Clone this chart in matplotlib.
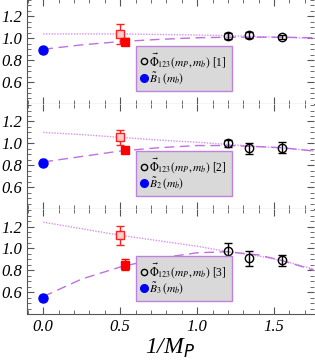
import matplotlib
matplotlib.use("Agg")
import matplotlib.pyplot as plt
from matplotlib import font_manager
from matplotlib.font_manager import FontProperties
from matplotlib.lines import Line2D
from matplotlib.ticker import MultipleLocator

# buscar el archivo de la serif italica
ruta_it = None
for f in font_manager.findSystemFonts():
  if 'LiberationSerif-Italic' in f:
    ruta_it = f
if ruta_it:
  fp_it = FontProperties(fname=ruta_it)
else:
  fp_it = FontProperties(family='Liberation Serif', style='italic')

plt.rcParams['font.family'] = 'Liberation Serif'
plt.rcParams['mathtext.fontset'] = 'stix'

# datos, un bloque por panel
x_b = [0.0]
x_open = [0.5]
x_fill = [0.53]
x_phi = [1.20, 1.34, 1.55]

b_y = [0.89, 0.825, 0.545]
b_err = [0.025, 0.03, 0.03]
open_y = [1.04, 1.055, 1.12]
open_err = [0.09, 0.07, 0.085]
fill_y = [0.97, 0.94, 0.85]
fill_err = [0.03, 0.02, 0.05]
phi_y = [[1.02, 1.03, 1.01],
         [1.00, 0.955, 0.96],
         [0.98, 0.91, 0.89]]
phi_err = [[0.03, 0.03, 0.02],
           [0.035, 0.05, 0.05],
           [0.065, 0.07, 0.05]]

curva_x = [0.0, 0.25, 0.5, 0.75, 1.0, 1.2, 1.4, 1.55, 1.76]
dashed_y = [[0.90, 0.94, 0.97, 0.99, 1.005, 1.01, 1.01, 1.01, 1.005],
            [0.83, 0.88, 0.93, 0.96, 0.98, 0.98, 0.97, 0.96, 0.93],
            [0.56, 0.72, 0.83, 0.91, 0.96, 0.97, 0.94, 0.89, 0.80]]
dotted_y = [[1.04, 1.04, 1.04, 1.035, 1.03, 1.025, 1.015, 1.01, 1.00],
            [1.10, 1.08, 1.055, 1.03, 1.01, 0.99, 0.97, 0.96, 0.93],
            [1.24, 1.18, 1.12, 1.07, 1.02, 0.97, 0.93, 0.89, 0.81]]
etiquetas = ['[1]', '[2]', '[3]']

fig = plt.figure(figsize=(3.15, 3.61), dpi=100)
fondos = [0.712, 0.421, 0.130]
gris = '#555555'

for i in range(3):
  ax = fig.add_axes([0.086, fondos[i], 0.911, 0.291])
  ax.plot(curva_x, dotted_y[i], linestyle=(0, (1, 1)), color='#d890f0', lw=1)
  ax.plot(curva_x, dashed_y[i], linestyle=(0, (7, 4)), color='#c070e0', lw=1)
  ax.errorbar(x_b, [b_y[i]], yerr=[b_err[i]], fmt='o', color='#0000ff',
              ms=6.5, capsize=2, elinewidth=1)
  ax.errorbar(x_open, [open_y[i]], yerr=[open_err[i]], fmt='s', color='#ff2020',
              mfc='#ffcccc', ms=6, capsize=3, elinewidth=1)
  ax.errorbar(x_fill, [fill_y[i]], yerr=[fill_err[i]], fmt='s', color='#ff0000',
              ms=6, capsize=3, elinewidth=1)
  ax.errorbar(x_phi, phi_y[i], yerr=phi_err[i], fmt='o', color='black',
              mfc='none', ms=6, capsize=3, elinewidth=1, mew=1)
  ax.set_xlim(-0.105, 1.76)
  ax.set_ylim(0.4, 1.36)
  ax.yaxis.set_minor_locator(MultipleLocator(0.05))
  ax.xaxis.set_minor_locator(MultipleLocator(0.1))
  ax.tick_params(which='both', direction='in', top=True, right=True, color=gris)
  ax.tick_params(which='major', length=5)
  ax.tick_params(which='minor', length=3)
  ax.spines['top'].set_visible(False)
  ax.spines['right'].set_visible(False)
  ax.spines['left'].set_color(gris)
  ax.spines['bottom'].set_color(gris)
  ax.set_yticks([0.6, 0.8, 1.0, 1.2])
  ax.set_yticklabels(['0.6', '0.8', '1.0', '1.2'], fontproperties=fp_it, fontsize=12)
  ax.set_xticks([0.0, 0.5, 1.0, 1.5])
  if i < 2:
    ax.set_xticklabels([])
  else:
    ax.set_xticklabels(['0.0', '0.5', '1.0', '1.5'], fontproperties=fp_it, fontsize=12)
    ax.set_xlabel(r'1/M$_P$', fontproperties=fp_it, fontsize=17, labelpad=1)
  handles = [Line2D([], [], marker='o', color='black', mfc='none', ls='none', ms=4.5),
             Line2D([], [], marker='o', color='#0000ff', ls='none', ms=5.5)]
  labels = [r'$\vec{\Phi}_{123}(m_P,m_b)$ ' + etiquetas[i],
            r'$\tilde{B}_%d\,(m_b)$' % (i + 1)]
  leg = ax.legend(handles, labels, loc='lower left', bbox_to_anchor=(0.38, 0.12),
                  fontsize=8.3, frameon=True, fancybox=False, handlelength=0.5,
                  handletextpad=0.2, borderpad=0.45, labelspacing=0.05,
                  borderaxespad=0)
  leg.get_frame().set_facecolor('#d9d9d9')
  leg.get_frame().set_edgecolor('#c080e0')
  leg.get_frame().set_alpha(1)

plt.savefig('out.png', dpi=100)
